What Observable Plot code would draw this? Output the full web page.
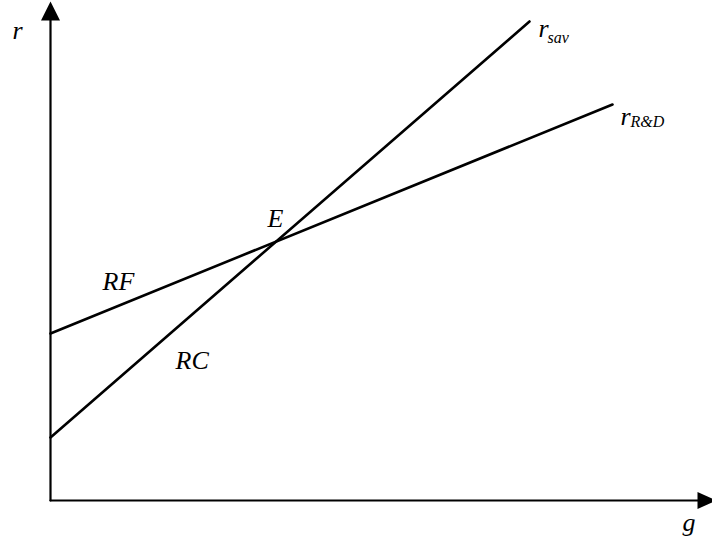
<!DOCTYPE html>
<html>
<head>
<meta charset="utf-8">
<script src="https://cdn.jsdelivr.net/npm/d3@7"></script>
<script src="https://cdn.jsdelivr.net/npm/@observablehq/plot@0.6"></script>
<style>
  html, body { margin: 0; padding: 0; background: #fff; }
  #chart svg { display: block; }
</style>
</head>
<body>
<div id="chart"></div>
<script>
// Abstract units (g horizontal, r vertical)
const gMax = 662;
const rMax = 500;

// Curves: endpoints [g, r]
const rSav = [[0, 63], [479, 479]];
const rRD  = [[0, 167], [562, 396]];

// Axes (shaft ends and arrow tips)
const yAxis = [[0, 0], [0, 481]];
const xAxis = [[0, 0], [650, 0]];
const yTip = [[0, 499]];
const xTip = [[666, 0]];

// Text labels [g, r, text]
const mainLabels = [
  [-38, 480, "r"],
  [632, -12, "g"],
  [217, 292, "E"],
  [52, 229, "RF"],
  [125, 150, "RC"],
  [488, 482, "r"],
  [570, 394, "r"]
];
const subLabels = [
  [497, 469, "sav"],
  [580, 385, "R&D"]
];

const upArrow = {draw(ctx) { ctx.moveTo(0, 0); ctx.lineTo(9.5, 19); ctx.lineTo(-9.5, 19); ctx.closePath(); }};
const rightArrow = {draw(ctx) { ctx.moveTo(0, 0); ctx.lineTo(-19, 8.5); ctx.lineTo(-19, -8.5); ctx.closePath(); }};

const font = "'Liberation Serif', 'Times New Roman', serif";

const chart = Plot.plot({
  width: 712,
  height: 542,
  marginLeft: 50,
  marginRight: 0,
  marginTop: 0,
  marginBottom: 42,
  style: {background: "#fff", overflow: "visible", fontFamily: font},
  x: {domain: [0, gMax], axis: null},
  y: {domain: [0, rMax], axis: null},
  marks: [
    Plot.line(yAxis, {x: d => d[0], y: d => d[1], stroke: "black", strokeWidth: 2.2}),
    Plot.line(xAxis, {x: d => d[0], y: d => d[1], stroke: "black", strokeWidth: 2.2}),
    Plot.dot(yTip, {x: d => d[0], y: d => d[1], symbol: upArrow, fill: "black", stroke: null}),
    Plot.dot(xTip, {x: d => d[0], y: d => d[1], symbol: rightArrow, fill: "black", stroke: null}),
    Plot.line(rSav, {x: d => d[0], y: d => d[1], stroke: "black", strokeWidth: 2.6}),
    Plot.line(rRD, {x: d => d[0], y: d => d[1], stroke: "black", strokeWidth: 2.6}),
    Plot.text(mainLabels, {x: d => d[0], y: d => d[1], text: d => d[2], textAnchor: "start", lineAnchor: "top",
      fontFamily: font, fontStyle: "italic", fontSize: 26, fill: "black"}),
    Plot.text(subLabels, {x: d => d[0], y: d => d[1], text: d => d[2], textAnchor: "start", lineAnchor: "top",
      fontFamily: font, fontStyle: "italic", fontSize: 16, fill: "black"})
  ]
});
document.getElementById("chart").appendChild(chart);
</script>
</body>
</html>
